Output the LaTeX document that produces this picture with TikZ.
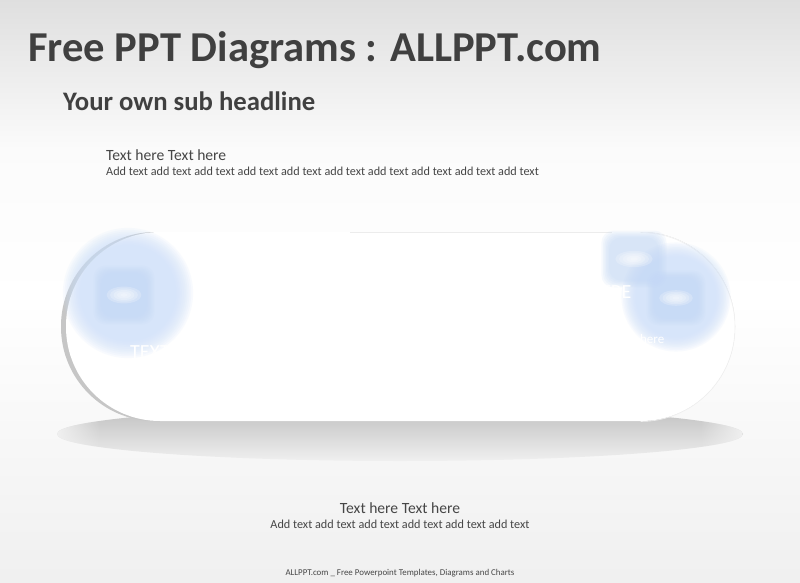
\documentclass[tikz,border=0pt]{standalone}
\usepackage{fontspec}
\setmainfont{Carlito}
\usetikzlibrary{fadings}
\definecolor{headgray}{RGB}{64,64,64}
\definecolor{textgray}{RGB}{70,70,70}
\definecolor{glowblue}{RGB}{205,224,250}
\definecolor{corebl}{RGB}{195,216,246}
\tikzfading[name=fadeout right,left color=transparent!0,right color=transparent!100]
\tikzfading[name=fadeout left,left color=transparent!100,right color=transparent!0]
\tikzset{
  headline/.style={text=headgray,font=\bfseries\fontsize{42.6}{46}\selectfont,anchor=west,inner sep=0},
  subline/.style={text=headgray,font=\bfseries\fontsize{26.7}{30}\selectfont,anchor=west,inner sep=0},
  bodyhead/.style={text=textgray,font=\fontsize{15.6}{18}\selectfont,inner sep=0},
  bodytext/.style={text=textgray,font=\fontsize{12.2}{14}\selectfont,inner sep=0},
  ghost/.style={text=white,font=\fontsize{20}{22}\selectfont,inner sep=0}
}
\newcommand{\glowdisc}[3]{% x, y, radius
  \foreach \k in {1,...,10}
    \fill[glowblue,opacity=0.13] (#1,#2) circle ({#3*(1.08-0.03*\k)});
}
\newcommand{\glowsquare}[4]{% x, y, half width, half height
  \foreach \k in {1,...,6}
    \fill[corebl,opacity=0.15,rounded corners=12]
      ({#1-#3*(1.1-0.05*\k)},{#2-#4*(1.1-0.05*\k)}) rectangle ({#1+#3*(1.1-0.05*\k)},{#2+#4*(1.1-0.05*\k)});
  \foreach \k in {1,...,5}
    \fill[white,opacity=0.22] (#1,#2) ellipse ({#3*0.12*\k} and {#4*0.06*\k});
}
\begin{document}
\begin{tikzpicture}[x=1pt,y=-1pt]

% background
\shade[top color=gray!25,bottom color=white,middle color=white!97!gray] (0,0) rectangle (800,300);
\shade[top color=white,bottom color=gray!12] (0,300) rectangle (800,583);
\useasboundingbox (0,0) rectangle (800,583);

% shadow under the capsule
\shade[top color=black!25,middle color=black!32,bottom color=black!6] (400,434) ellipse (343 and 27);
\scope
\clip (400,434) ellipse (343 and 27);
\fill[white!88!gray,path fading=fadeout right] (57,400) rectangle (100,470);
\fill[white!88!gray,path fading=fadeout left] (700,400) rectangle (743,470);
\endscope

% capsule
\fill[gray!45,rounded corners=94] (61,232) rectangle (735,421);
\fill[white,rounded corners=94] (66,232) rectangle (735,421);
\draw[gray!12,line width=0.6] (640.5,232.5) arc[start angle=-90,end angle=90,radius=94.5];
\draw[gray!15,line width=0.8] (350,232.5) -- (612,232.5);

% glowing discs
\glowdisc{128}{293}{62}
\glowsquare{124}{295}{29}{28}
\glowdisc{676}{297}{52}
\glowsquare{676}{298}{28}{26}
\glowsquare{634}{259}{31}{27}

% faint labels
\node[ghost] (lefttxt) at (150,352) {TEXT};
\node[ghost] (righttxt) at (610,292) {HERE};
\node[ghost,font=\fontsize{13}{15}\selectfont] (rightsub) at (640,339) {Text here};

% titles
\node[headline] (title) at (28,50) {Free PPT Diagrams : ALLPPT.com};
\node[subline] (subtitle) at (63,101) {Your own sub headline};
\node[bodyhead,anchor=west] (tophead) at (106,155) {Text here Text here};
\node[bodytext,anchor=west] (toptext) at (106,171.5) {Add text add text add text add text add text add text add text add text add text add text};
\node[bodyhead] (bothead) at (400,508) {Text here Text here};
\node[bodytext] (bottext) at (400,524) {Add text add text add text add text add text add text};
\node[text=textgray,font=\fontsize{8.9}{10}\selectfont,inner sep=0] (footer) at (400,573) {ALLPPT.com \_ Free Powerpoint Templates, Diagrams and Charts};
\end{tikzpicture}
\end{document}
